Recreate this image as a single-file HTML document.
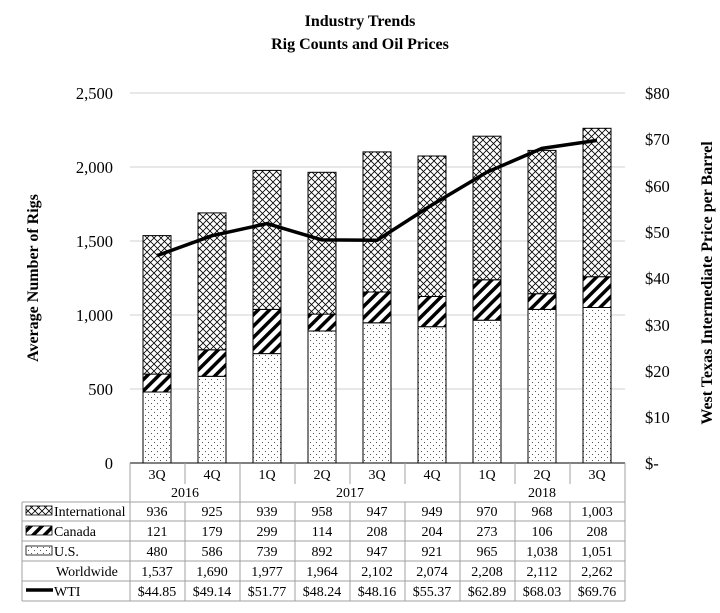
<!DOCTYPE html>
<html><head><meta charset="utf-8"><style>
body{margin:0;background:#fff}
text{font-family:"Liberation Serif",serif;fill:#000}
</style></head><body>
<svg width="720" height="608" viewBox="0 0 720 608" xmlns="http://www.w3.org/2000/svg">
<defs>
<pattern id="xh" width="7" height="7" patternUnits="userSpaceOnUse">
<rect width="7" height="7" fill="#fff"/>
<path d="M0,0L7,7M7,0L0,7" stroke="#000" stroke-width="0.8"/>
</pattern>
<pattern id="dg" width="8" height="8" patternUnits="userSpaceOnUse" patternTransform="rotate(45)">
<rect width="8" height="8" fill="#fff"/>
<rect x="0" y="0" width="3.5" height="8" fill="#000"/>
</pattern>
<pattern id="dt" width="6" height="6" patternUnits="userSpaceOnUse">
<rect width="6" height="6" fill="#fff"/>
<rect x="1" y="1" width="1" height="1" fill="#555"/>
<rect x="4" y="4" width="1" height="1" fill="#555"/>
</pattern>
</defs>
<text x="360" y="26" font-size="16" font-weight="bold" text-anchor="middle">Industry Trends</text>
<text x="360" y="49" font-size="16" font-weight="bold" text-anchor="middle">Rig Counts and Oil Prices</text>
<g stroke="#d0d0d0" stroke-width="1">
<line x1="130" x2="625" y1="93" y2="93"/><line x1="130" x2="625" y1="167" y2="167"/>
<line x1="130" x2="625" y1="241" y2="241"/><line x1="130" x2="625" y1="315" y2="315"/>
<line x1="130" x2="625" y1="389" y2="389"/>
</g>
<g font-size="16.5" text-anchor="end">
<text x="113" y="99">2,500</text><text x="113" y="173">2,000</text><text x="113" y="247">1,500</text>
<text x="113" y="321">1,000</text><text x="113" y="395">500</text><text x="113" y="469">0</text>
</g>
<g font-size="16.5">
<text x="645" y="99">$80</text><text x="645" y="145">$70</text><text x="645" y="192">$60</text>
<text x="645" y="238">$50</text><text x="645" y="284">$40</text><text x="645" y="331">$30</text>
<text x="645" y="377">$20</text><text x="645" y="423">$10</text><text x="645" y="469">$-</text>
</g>
<text transform="translate(38,278) rotate(-90)" font-size="16" font-weight="bold" text-anchor="middle">Average Number of Rigs</text>
<text transform="translate(712,283) rotate(-90)" font-size="16" font-weight="bold" text-anchor="middle">West Texas Intermediate Price per Barrel</text>
<g stroke="#000" stroke-width="1">
<rect x="143" y="392.0" width="28" height="71.0" fill="url(#dt)"/><rect x="143" y="374.1" width="28" height="17.9" fill="url(#dg)"/><rect x="143" y="235.6" width="28" height="138.5" fill="url(#xh)"/>
<rect x="198" y="376.3" width="28" height="86.7" fill="url(#dt)"/><rect x="198" y="349.8" width="28" height="26.5" fill="url(#dg)"/><rect x="198" y="212.9" width="28" height="136.9" fill="url(#xh)"/>
<rect x="253" y="353.6" width="28" height="109.4" fill="url(#dt)"/><rect x="253" y="309.4" width="28" height="44.2" fill="url(#dg)"/><rect x="253" y="170.4" width="28" height="139.0" fill="url(#xh)"/>
<rect x="308" y="331.0" width="28" height="132.0" fill="url(#dt)"/><rect x="308" y="314.1" width="28" height="16.9" fill="url(#dg)"/><rect x="308" y="172.3" width="28" height="141.8" fill="url(#xh)"/>
<rect x="363" y="322.8" width="28" height="140.2" fill="url(#dt)"/><rect x="363" y="292.0" width="28" height="30.8" fill="url(#dg)"/><rect x="363" y="151.9" width="28" height="140.1" fill="url(#xh)"/>
<rect x="418" y="326.7" width="28" height="136.3" fill="url(#dt)"/><rect x="418" y="296.5" width="28" height="30.2" fill="url(#dg)"/><rect x="418" y="156.0" width="28" height="140.5" fill="url(#xh)"/>
<rect x="473" y="320.2" width="28" height="142.8" fill="url(#dt)"/><rect x="473" y="279.8" width="28" height="40.4" fill="url(#dg)"/><rect x="473" y="136.2" width="28" height="143.6" fill="url(#xh)"/>
<rect x="528" y="309.4" width="28" height="153.6" fill="url(#dt)"/><rect x="528" y="293.7" width="28" height="15.7" fill="url(#dg)"/><rect x="528" y="150.4" width="28" height="143.3" fill="url(#xh)"/>
<rect x="583" y="307.5" width="28" height="155.5" fill="url(#dt)"/><rect x="583" y="276.7" width="28" height="30.8" fill="url(#dg)"/><rect x="583" y="128.3" width="28" height="148.4" fill="url(#xh)"/>
</g>
<polyline points="157,255.6 212,235.7 267,223.6 322,239.9 377,240.3 432,204.9 487,172.1 542,148.4 597,140.4" fill="none" stroke="#000" stroke-width="3.5" stroke-linejoin="round"/>
<g stroke="#a0a0a0" stroke-width="1" fill="none">
<line x1="130" x2="625" y1="463" y2="463" stroke="#000"/>
<line x1="22" x2="625" y1="502" y2="502"/><line x1="22" x2="625" y1="521" y2="521"/>
<line x1="22" x2="625" y1="541" y2="541"/><line x1="22" x2="625" y1="561" y2="561"/>
<line x1="22" x2="625" y1="581" y2="581"/><line x1="22" x2="625" y1="601" y2="601"/>
<line x1="22" x2="22" y1="502" y2="601"/><line x1="625" x2="625" y1="463" y2="601"/>
<line x1="130" x2="130" y1="463" y2="601"/><line x1="240" x2="240" y1="463" y2="601"/><line x1="460" x2="460" y1="463" y2="601"/>
<line x1="185" x2="185" y1="463" y2="484"/><line x1="295" x2="295" y1="463" y2="484"/><line x1="350" x2="350" y1="463" y2="484"/>
<line x1="405" x2="405" y1="463" y2="484"/><line x1="515" x2="515" y1="463" y2="484"/><line x1="570" x2="570" y1="463" y2="484"/>
<line x1="185" x2="185" y1="502" y2="601"/><line x1="295" x2="295" y1="502" y2="601"/><line x1="350" x2="350" y1="502" y2="601"/>
<line x1="405" x2="405" y1="502" y2="601"/><line x1="515" x2="515" y1="502" y2="601"/><line x1="570" x2="570" y1="502" y2="601"/>
</g>
<g font-size="14" text-anchor="middle">
<text x="157" y="479">3Q</text><text x="212" y="479">4Q</text><text x="267" y="479">1Q</text><text x="322" y="479">2Q</text><text x="377" y="479">3Q</text><text x="432" y="479">4Q</text><text x="487" y="479">1Q</text><text x="542" y="479">2Q</text><text x="597" y="479">3Q</text>
<text x="185" y="497">2016</text><text x="350" y="497">2017</text><text x="542" y="497">2018</text>
<text x="157" y="516">936</text><text x="212" y="516">925</text><text x="267" y="516">939</text><text x="322" y="516">958</text><text x="377" y="516">947</text><text x="432" y="516">949</text><text x="487" y="516">970</text><text x="542" y="516">968</text><text x="597" y="516">1,003</text>
<text x="157" y="536">121</text><text x="212" y="536">179</text><text x="267" y="536">299</text><text x="322" y="536">114</text><text x="377" y="536">208</text><text x="432" y="536">204</text><text x="487" y="536">273</text><text x="542" y="536">106</text><text x="597" y="536">208</text>
<text x="157" y="556">480</text><text x="212" y="556">586</text><text x="267" y="556">739</text><text x="322" y="556">892</text><text x="377" y="556">947</text><text x="432" y="556">921</text><text x="487" y="556">965</text><text x="542" y="556">1,038</text><text x="597" y="556">1,051</text>
<text x="157" y="576">1,537</text><text x="212" y="576">1,690</text><text x="267" y="576">1,977</text><text x="322" y="576">1,964</text><text x="377" y="576">2,102</text><text x="432" y="576">2,074</text><text x="487" y="576">2,208</text><text x="542" y="576">2,112</text><text x="597" y="576">2,262</text>
<text x="157" y="596">$44.85</text><text x="212" y="596">$49.14</text><text x="267" y="596">$51.77</text><text x="322" y="596">$48.24</text><text x="377" y="596">$48.16</text><text x="432" y="596">$55.37</text><text x="487" y="596">$62.89</text><text x="542" y="596">$68.03</text><text x="597" y="596">$69.76</text>
</g>
<g stroke="#000" stroke-width="0.8">
<rect x="26" y="506" width="26" height="9" fill="url(#xh)"/>
<rect x="26" y="526" width="26" height="9" fill="url(#dg)"/>
<rect x="26" y="546" width="26" height="9" fill="url(#dt)"/>
</g>
<line x1="26" x2="53" y1="590" y2="590" stroke="#000" stroke-width="3.5"/>
<g font-size="14">
<text x="54" y="516">International</text><text x="54" y="536">Canada</text><text x="54" y="556">U.S.</text>
<text x="56" y="576">Worldwide</text><text x="54" y="596">WTI</text>
</g>
</svg>
</body></html>
